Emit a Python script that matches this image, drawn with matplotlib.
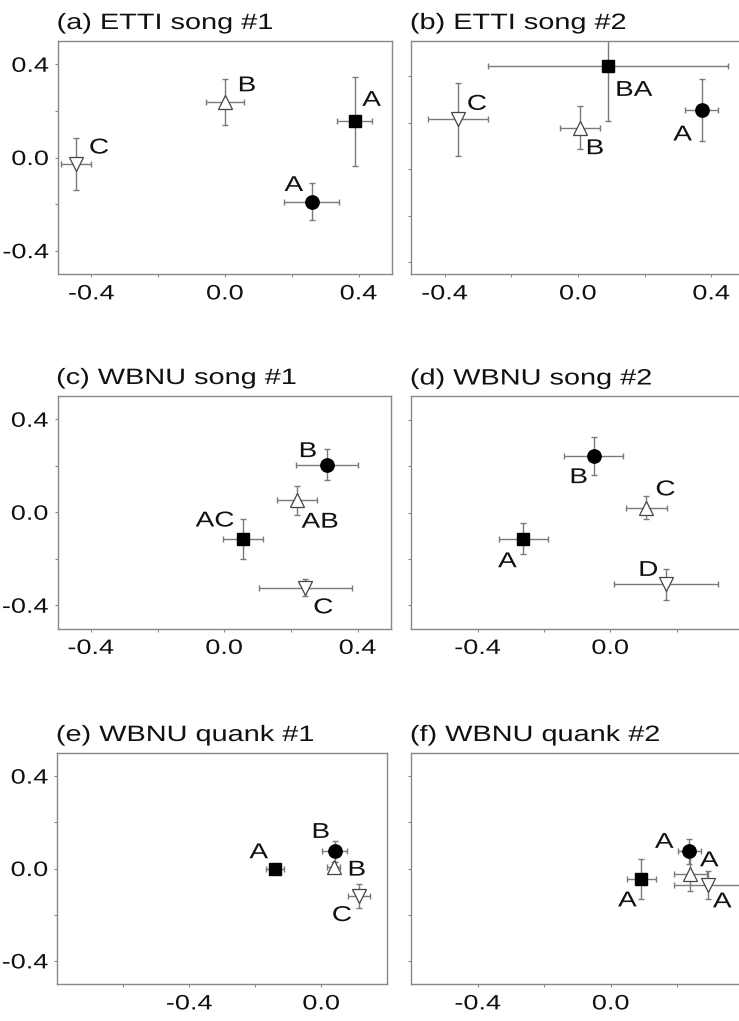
import matplotlib
matplotlib.use("Agg")
import matplotlib.pyplot as plt
from matplotlib.patheffects import AbstractPathEffect
from matplotlib.transforms import Affine2D
import numpy as np

plt.rcParams['font.family'] = ['Liberation Sans', 'DejaVu Sans']
plt.rcParams['axes.unicode_minus'] = False

# order of points in every panel: filled circle, filled square, open triangle up, open triangle down
titles = ['(a) ETTI song #1', '(b) ETTI song #2', '(c) WBNU song #1',
          '(d) WBNU song #2', '(e) WBNU quank #1', '(f) WBNU quank #2']

a_x = [0.26, 0.388, 0.0, -0.446]
a_y = [-0.189, 0.155, 0.239, -0.028]
a_xerr = [0.082, 0.052, 0.058, 0.046]
a_yerr = [0.08, 0.19, 0.10, 0.113]
a_lab = ['A', 'A', 'B', 'C']

b_x = [0.371, 0.09, 0.006, -0.36]
b_y = [0.254, 0.441, 0.178, 0.214]
b_xerr = [0.049, 0.36, 0.06, 0.091]
b_yerr = [0.135, 0.233, 0.092, 0.156]
b_lab = ['A', 'BA', 'B', 'C']

c_x = [0.308, 0.056, 0.218, 0.243]
c_y = [0.205, -0.115, 0.052, -0.325]
c_xerr = [0.092, 0.06, 0.061, 0.139]
c_yerr = [0.066, 0.087, 0.063, 0.036]
c_lab = ['B', 'AC', 'AB', 'C']

d_x = [-0.05, -0.262, 0.109, 0.169]
d_y = [0.245, -0.113, 0.02, -0.31]
d_xerr = [0.089, 0.074, 0.062, 0.157]
d_yerr = [0.082, 0.066, 0.05, 0.068]
d_lab = ['B', 'A', 'C', 'D']

e_x = [0.041, -0.141, 0.038, 0.114]
e_y = [0.074, -0.001, 0.006, -0.117]
e_xerr = [0.038, 0.028, 0.02, 0.034]
e_yerr = [0.045, 0.015, 0.02, 0.052]
e_lab = ['B', 'A', 'B', 'C']

f_x = [0.236, 0.092, 0.239, 0.293]
f_y = [0.074, -0.045, -0.023, -0.071]
f_xerr = [0.034, 0.044, 0.05, 0.104]
f_yerr = [0.053, 0.088, 0.075, 0.06]
f_lab = ['A', 'A', 'A', 'A']

panels = [(a_x, a_y, a_xerr, a_yerr, a_lab), (b_x, b_y, b_xerr, b_yerr, b_lab),
          (c_x, c_y, c_xerr, c_yerr, c_lab), (d_x, d_y, d_xerr, d_yerr, d_lab),
          (e_x, e_y, e_xerr, e_yerr, e_lab), (f_x, f_y, f_xerr, f_yerr, f_lab)]

xlims = [(-0.5, 0.5), (-0.5, 0.5), (-0.5, 0.5), (-0.6, 0.4), (-0.8, 0.2), (-0.6, 0.4)]
ylims = [(-0.5, 0.5), (-0.45, 0.55), (-0.5, 0.5), (-0.5, 0.5), (-0.5, 0.5), (-0.5, 0.5)]

# label offsets in pixels (dx, dy up)
offsets = [
    [(-18, 16), (17, 21), (22, 16), (23, 16)],
    [(-19, -25), (26, -24), (15, -21), (19, 15)],
    [(-19, 13), (-28, 18), (23, -22), (18, -20)],
    [(-15, -22), (-16, -23), (19, 18), (-18, 14)],
    [(-14, 19), (-16, 16), (23, -3), (-17, -20)],
    [(-25, 9), (-14, -22), (19, 13), (14, -17)],
]

# axes boxes in pixels: left, top, width, height
W, H = 739, 1021
boxes = [(58, 41, 334, 233), (411.3, 41, 333.3, 233),
         (57.5, 396, 333.5, 232.5), (411.3, 396.5, 331.7, 232),
         (57.3, 753, 330, 231), (411.3, 753, 332.5, 231)]

styles = [dict(marker='o', ms=9.6, mfc='black', mec='black'),
          dict(marker='s', ms=8.6, mfc='black', mec='black'),
          dict(marker='^', ms=10, mfc='white', mec='#444444', mew=0.9),
          dict(marker='v', ms=10, mfc='white', mec='#444444', mew=0.9)]


class HStretch(AbstractPathEffect):
    # the source figure is stretched sideways, so widen the glyphs a bit
    def __init__(self, sx, anchor='center'):
        super().__init__()
        self.sx = sx
        self.anchor = anchor

    def draw_path(self, renderer, gc, tpath, affine, rgbFace=None):
        bb = tpath.get_extents(affine)
        px = {'left': bb.x0, 'center': (bb.x0 + bb.x1) / 2, 'right': bb.x1}[self.anchor]
        tr = affine + Affine2D().translate(-px, 0).scale(self.sx, 1).translate(px, 0)
        renderer.draw_path(gc, tpath, tr, rgbFace)


SX = 1.3
fig = plt.figure(figsize=(W / 100, H / 100), dpi=100)
grey = '#888888'

for i, (xs, ys, xe, ye, labs) in enumerate(panels):
    l, t, w, h = boxes[i]
    ax = fig.add_axes([l / W, 1 - (t + h) / H, w / W, h / H])
    for j in range(4):
        ax.errorbar(xs[j], ys[j], xerr=xe[j], yerr=ye[j], fmt='none',
                    ecolor='#7a7a7a', elinewidth=1, capsize=2, capthick=1, zorder=2)
        ax.plot(xs[j], ys[j], linestyle='none', zorder=3, **styles[j])
        ax.annotate(labs[j], (xs[j], ys[j]), xytext=offsets[i][j],
                    textcoords='offset pixels', ha='center', va='center',
                    fontsize=15.5, color='#111111', zorder=4,
                    path_effects=[HStretch(SX, 'center')])
    ax.set_xlim(*xlims[i])
    ax.set_ylim(*ylims[i])
    xt = [v + 0.0 for v in np.round(np.arange(-0.8, 0.81, 0.2), 1) if xlims[i][0] < v < xlims[i][1]]
    yt = [-0.4, -0.2, 0.0, 0.2, 0.4]
    ax.set_xticks(xt)
    ax.set_xticklabels([f'{v:.1f}' if abs(round(v / 0.4) - v / 0.4) < 1e-6 else '' for v in xt])
    ax.set_yticks(yt)
    if i % 2 == 0:
        ax.set_yticklabels(['-0.4', '', '0.0', '', '0.4'])
    else:
        ax.set_yticklabels([])
    ax.tick_params(length=2.5, width=0.8, color=grey, labelsize=15, labelcolor='#111111')
    ax.tick_params(axis='x', pad=5)
    ax.tick_params(axis='y', pad=4)
    for lab in ax.get_xticklabels():
        lab.set_path_effects([HStretch(SX, 'center')])
    for lab in ax.get_yticklabels():
        lab.set_path_effects([HStretch(SX, 'right')])
    for s in ax.spines.values():
        s.set_color(grey)
        s.set_linewidth(1)
    ax.annotate(titles[i], (0, 1), xycoords='axes fraction', xytext=(-1, 12),
                textcoords='offset pixels', ha='left', va='baseline',
                fontsize=16, color='#111111', path_effects=[HStretch(SX, 'left')])

fig.savefig('out.png', dpi=100)
